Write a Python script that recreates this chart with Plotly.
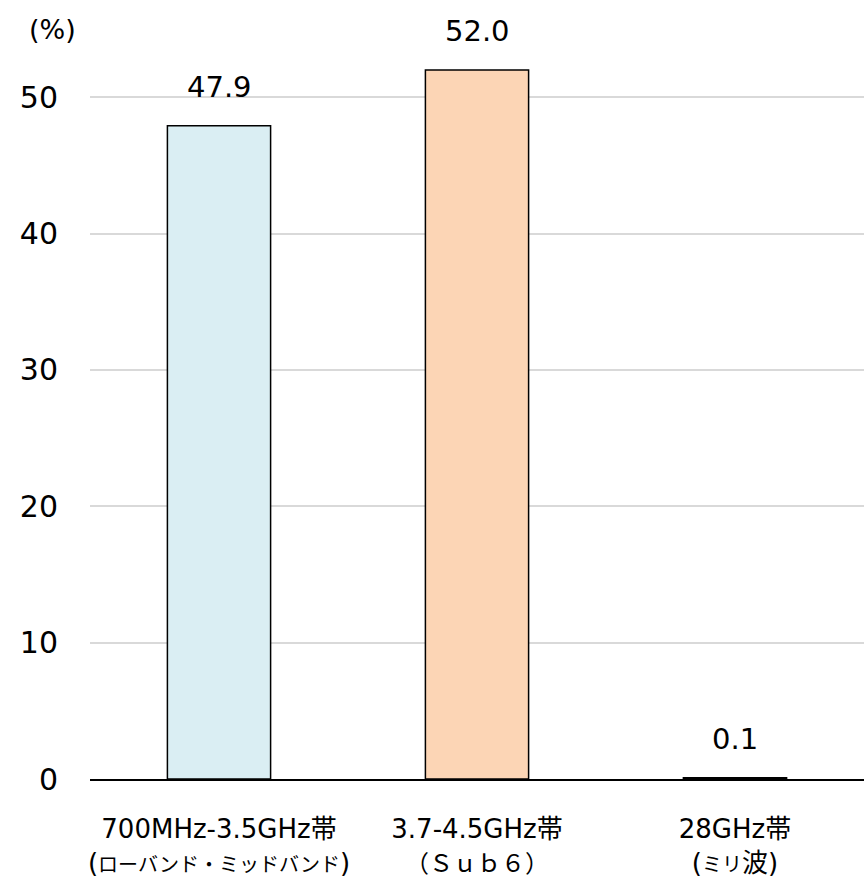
import plotly.graph_objects as go

KS = '<span style="font-size:20px">'
categories = [
    "700MHz-3.5GHz帯<br>(" + KS + "ローバンド・ミッドバンド</span>)",
    "3.7-4.5GHz帯<br>" + '<span style="font-size:24px">（Ｓｕｂ６）</span>',
    "28GHz帯<br>(" + KS + "ミリ</span>波)",
]
values = [47.9, 52.0, 0.1]
bar_colors = ["#DAEEF3", "#FCD5B5", "#FCD5B5"]
y_ticks = [0, 10, 20, 30, 40, 50]

FONT = "DejaVu Sans, Noto Sans CJK JP"

fig = go.Figure()
fig.add_trace(go.Bar(
    x=categories, y=values,
    marker=dict(color=bar_colors, line=dict(color="#000000", width=1.5)),
    cliponaxis=False, hoverinfo="skip",
))
for c, v in zip(categories, values):
    fig.add_annotation(x=c, y=v, text=f"{v:.1f}", showarrow=False,
                       yanchor="bottom", yshift=20,
                       font=dict(size=29, color="#000000", family=FONT))
fig.update_layout(
    width=864, height=888,
    margin=dict(l=90, r=0, t=29, b=109, autoexpand=False),
    paper_bgcolor="white", plot_bgcolor="white",
    bargap=0.6, showlegend=False,
    font=dict(family=FONT, color="#000000"),
    xaxis=dict(showline=True, linecolor="#000000", linewidth=1.5, automargin=False,
               tickfont=dict(size=26, family=FONT), ticklabelstandoff=26),
    yaxis=dict(range=[0, 55], tickvals=y_ticks, showgrid=True, gridcolor="#D9D9D9",
               gridwidth=1.5, zeroline=False, showline=False, automargin=False,
               tickfont=dict(size=30, family=FONT), ticklabelstandoff=31),
)
fig.add_annotation(text="(%)", xref="paper", yref="paper", x=-0.049, y=0.9987,
                   xanchor="center", yanchor="middle", showarrow=False,
                   font=dict(size=27, family=FONT, color="#000000"))
fig.write_html("out.html", config={"displayModeBar": False},
               post_script="document.body.style.margin='0';document.body.style.overflow='hidden';")
